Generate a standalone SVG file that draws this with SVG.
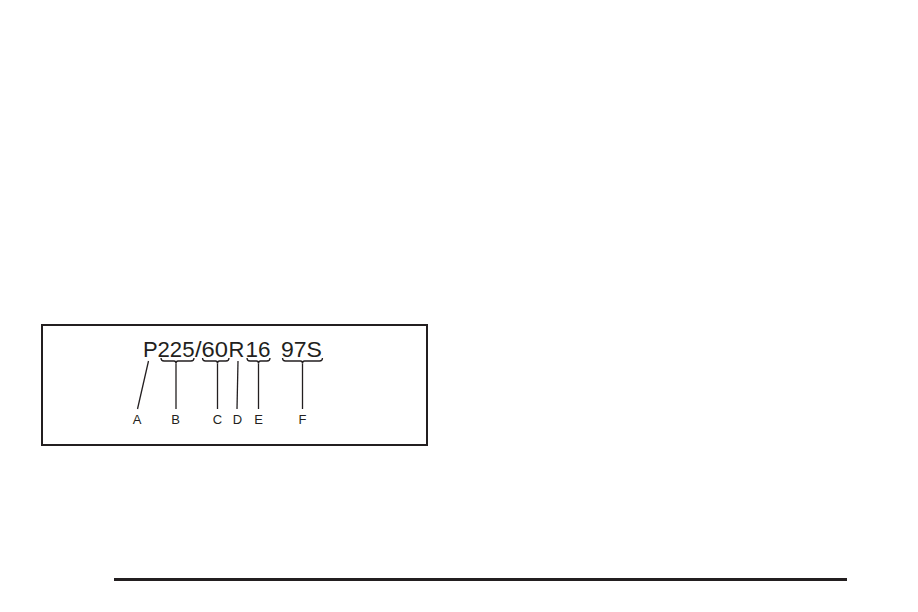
<svg xmlns="http://www.w3.org/2000/svg" width="918" height="612" viewBox="0 0 918 612">
<style>
.big{font-family:"Liberation Sans",Arial,sans-serif;font-size:22px;fill:#231f20}
.lbl{font-family:"Liberation Sans",Arial,sans-serif;font-size:13px;fill:#231f20;text-anchor:middle}
.ln{stroke:#231f20;stroke-width:1.3;fill:none}
</style>
<rect width="918" height="612" fill="#fff"/>
<g id="frame"><rect x="42" y="325" width="385" height="120" fill="none" stroke="#231f20" stroke-width="2"/></g>
<g id="code">
<text class="big" x="143" y="356.5">P</text>
<text class="big" x="157.5" y="356.5" textLength="37" lengthAdjust="spacingAndGlyphs">225</text>
<text class="big" x="195" y="356.5" textLength="33" lengthAdjust="spacingAndGlyphs">/60</text>
<text class="big" x="228.5" y="356.5">R</text>
<text class="big" x="245.5" y="356.5" textLength="25" lengthAdjust="spacingAndGlyphs">16</text>
<text class="big" x="281" y="356.5" textLength="41" lengthAdjust="spacingAndGlyphs">97S</text>
</g>
<g id="connectors">
<path class="ln" d="M161,358 q0,3 3,3 H174 q2,0 2,2.5 q0,-2.5 2,-2.5 H191 q3,0 3,-3"/>
<path class="ln" d="M202.5,358 q0,3 3,3 H215.5 q2,0 2,2.5 q0,-2.5 2,-2.5 H226 q3,0 3,-3"/>
<path class="ln" d="M247,358 q0,3 3,3 H256.5 q2,0 2,2.5 q0,-2.5 2,-2.5 H267 q3,0 3,-3"/>
<path class="ln" d="M282.5,358 q0,3 3,3 H300.5 q2,0 2,2.5 q0,-2.5 2,-2.5 H319.5 q3,0 3,-3"/>
<line class="ln" x1="148.5" y1="361" x2="137.5" y2="409"/>
<line class="ln" x1="176" y1="363.5" x2="176" y2="409"/>
<line class="ln" x1="217.5" y1="363.5" x2="217.5" y2="409"/>
<line class="ln" x1="238" y1="361" x2="237" y2="409"/>
<line class="ln" x1="258.5" y1="363.5" x2="258.5" y2="409"/>
<line class="ln" x1="302.5" y1="363.5" x2="302.5" y2="409"/>
</g>
<g id="labels">
<text class="lbl" x="137" y="423.5">A</text>
<text class="lbl" x="175.5" y="423.5">B</text>
<text class="lbl" x="217.5" y="423.5">C</text>
<text class="lbl" x="237.5" y="423.5">D</text>
<text class="lbl" x="258.5" y="423.5">E</text>
<text class="lbl" x="302.5" y="423.5">F</text>
</g>
<g id="rule"><rect x="114" y="578" width="733" height="3" fill="#231f20"/></g>
</svg>
